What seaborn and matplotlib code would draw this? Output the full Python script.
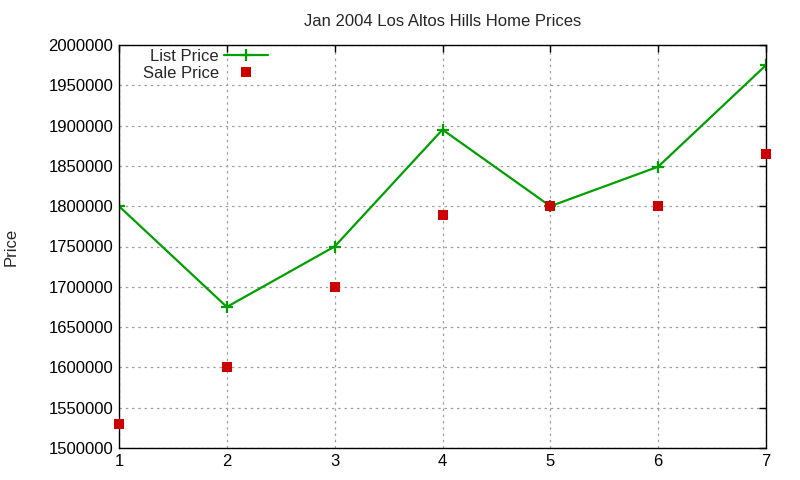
import matplotlib
matplotlib.use('Agg')
import matplotlib.pyplot as plt
from matplotlib.lines import Line2D
import seaborn as sns
import pandas as pd
import numpy as np

# data
house = [1, 2, 3, 4, 5, 6, 7]
list_price = [1800000, 1675000, 1750000, 1895000, 1800000, 1849000, 1975000]
sale_price = [1530000, 1600000, 1700000, 1789000, 1800000, 1800000, 1865000]

df = pd.DataFrame({'house': house, 'list': list_price, 'sale': sale_price})

green = '#00a000'
red = '#cc0000'

sns.set_style('white')
plt.rcParams['font.family'] = ['Liberation Sans', 'DejaVu Sans']

fig = plt.figure(figsize=(8, 4.8), dpi=100)
ax = fig.add_axes([119/800, 1 - 448/480, (766-119)/800, (448-45)/480])

sns.lineplot(data=df, x='house', y='list', ax=ax, color=green, lw=1.6,
             marker='+', markersize=9, markeredgewidth=1.6,
             markeredgecolor=green, legend=False)
sns.scatterplot(data=df, x='house', y='sale', ax=ax, color=red, marker='s',
                s=42, linewidth=0, legend=False, zorder=5, clip_on=False)

ax.set_xlim(1, 7)
ax.set_ylim(1500000, 2000000)
ax.set_xticks(house)
ax.set_yticks(np.arange(1500000, 2000001, 50000))
ax.ticklabel_format(axis='y', style='plain', useOffset=False)
ax.grid(True, color='#a0a0a0', linestyle=(0, (2, 3)), lw=0.9)
ax.tick_params(direction='in', top=True, right=True, length=5, width=1,
               labelsize=12, colors='black', pad=4)
for s in ax.spines.values():
    s.set_color('black')
    s.set_linewidth(1)

ax.set_xlabel('')
ax.set_ylabel('Price', fontsize=12)
ax.yaxis.set_label_coords(-(119-19)/647, 0.5)
ax.set_title('Jan 2004 Los Altos Hills Home Prices', fontsize=12, pad=14)

handles = [Line2D([], [], color=green, lw=1.6, marker='+', markersize=9,
                  markeredgewidth=1.6),
           Line2D([], [], ls='none', color=red, marker='s', markersize=6.5,
                  markeredgewidth=0)]
leg = ax.legend(handles, ['List Price', 'Sale Price'], loc='upper left',
                bbox_to_anchor=((143-119)/647, 1 - 4/403), frameon=False,
                markerfirst=False, fontsize=12, handlelength=2.6,
                borderpad=0, labelspacing=0.12, handletextpad=0.32,
                borderaxespad=0)

fig.savefig('out.png', dpi=100)
